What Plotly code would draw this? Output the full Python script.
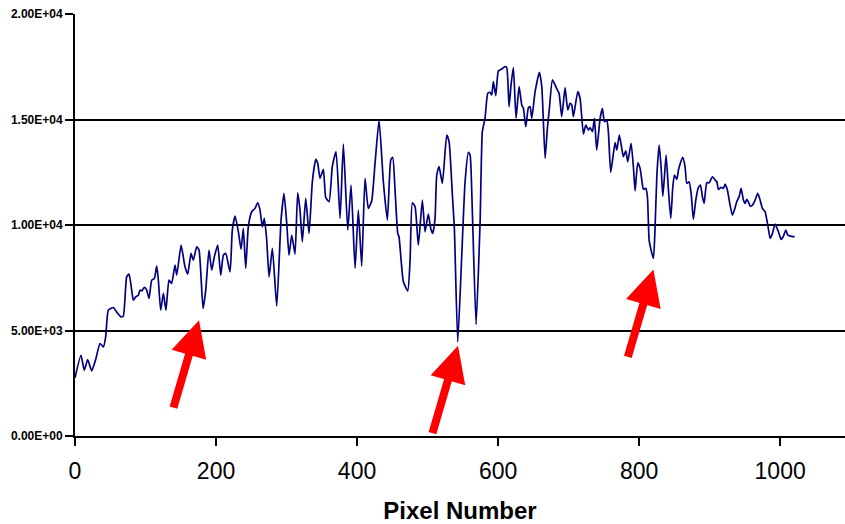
import plotly.graph_objects as go

# Spectrum trace: pixel number vs intensity
pixel = [0, 8.5, 13.2, 18, 23.6, 29.3, 35.5, 40.2, 43.5, 47.3, 54.3, 59, 65.2, 68.5, 73.3, 76.6,
         80.4, 82.7, 86, 89.8, 92.2, 94.6, 98.4, 101.7, 105, 108.8, 112.5, 115.9, 118.2, 121.5,
         125.3, 129, 133.3, 137, 141.8, 144.3, 150.4, 153.6, 156, 159.9, 164.5, 167.8, 172.6,
         175.9, 181.6, 185.4, 190, 193.9, 197.6, 202.4, 206.7, 210.4, 213.7, 219.9, 223.1, 227,
         231.7, 235.5, 238.7, 242.1, 245.8, 250.6, 255.3, 259.1, 262.4, 265.7, 268.5, 271.9,
         275.2, 279.9, 286.1, 292.2, 296.4, 300.3, 303.5, 307.4, 312, 315.8, 319.1, 322.4, 327.2,
         331.9, 336.6, 341.4, 344.2, 347.5, 352.2, 355.6, 360.3, 365, 370.2, 375.9, 380.6, 386.8,
         391.5, 397.2, 401.8, 406.6, 411.3, 416, 420.8, 425.5, 431.2, 437.3, 443, 447.8, 450.6,
         453.9, 457.7, 459.5, 465.7, 471.9, 475.2, 478.4, 482.3, 486.9, 492.6, 496.4, 501.1,
         504.5, 507.4, 510.6, 513, 516.3, 521, 527.2, 530.5, 535.2, 538, 542.8, 548.5, 553.2,
         557.9, 560.3, 563.5, 568.8, 574.5, 577.7, 581.5, 585.4, 588.6, 591, 593.3, 596.7, 600.4,
         605.2, 609.9, 612.3, 615.6, 618.4, 621.7, 625.5, 629.8, 633.6, 635.9, 639.3, 643, 645.4,
         647.8, 652.5, 658.6, 662, 666.7, 669.9, 672.8, 677, 680.8, 683.3, 686.5, 690.3, 695,
         698.8, 702.1, 704.5, 706.8, 713, 716.3, 721, 724.4, 728.1, 730.5, 733.8, 736.6, 739.9,
         744.7, 747.9, 750.8, 754.2, 756.4, 759.8, 765.9, 768.3, 772, 775.4, 777.7, 781.1, 783.9,
         788.6, 791.9, 794.3, 798.1, 801.4, 803.8, 806.1, 809.5, 811.8, 814.2, 817, 820.3, 822.7,
         825.1, 828.4, 831.2, 833.6, 835.9, 838.3, 841.6, 844.9, 847.8, 850.1, 853.5, 855.8,
         858.1, 861.9, 865.2, 867.6, 870.9, 873.8, 877, 880.4, 884.1, 887, 889.8, 892.2, 896,
         899.3, 904, 907.8, 910.2, 912.5, 916.3, 919.6, 922, 925.2, 929, 932.3, 935.1, 938.5,
         941.8, 944.7, 947.9, 950.3, 952.7, 955, 957.4, 960.7, 964.5, 968.3, 971.6, 974.9, 978.7,
         982.5, 985.8, 989.1, 992.9, 997.6, 1001.4, 1004.7, 1008.1, 1010.9, 1014.4, 1020.5]

intensity = [2760, 3828, 3117, 3624, 3084, 3624, 4383, 4222, 4697, 5963, 6091, 5883, 5645, 5679,
             7543, 7671, 6912, 6438, 6594, 6675, 6912, 6879, 7040, 6912, 6518, 7386, 7467, 8050,
             7386, 5963, 6755, 5963, 7386, 7230, 8098, 7624, 9047, 8492, 8017, 7671, 8653, 8335,
             8966, 8810, 6044, 6912, 8810, 7860, 8492, 9047, 7624, 8572, 8653, 7780, 9758, 10423,
             9678, 8843, 9839, 7941, 9915, 10627, 10788, 11054, 10707, 9915, 10313, 9284, 7543,
             8890, 6153, 10233, 11500, 10076, 8572, 9521, 8620, 11528, 10707, 9203, 11262, 9602,
             12050, 13112, 12923, 12211, 12638, 11310, 11101, 12795, 13473, 10313, 13838, 9758,
             11893, 7941, 10707, 8050, 12211, 10788, 11149, 12923, 14977, 12050, 10233, 13079,
             13207, 11656, 9602, 9441, 7306, 6879, 8335, 11054, 10864, 9047, 11182, 9678, 10518,
             9839, 9602, 10300, 12368, 12762, 11974, 14265, 13948, 11419, 9839, 4459, 8572, 12050,
             13444, 13317, 10627, 5285, 10152, 14422, 15057, 16243, 16290, 16163, 16794, 16130,
             17301, 17396, 17505, 17458, 15608, 16637, 17458, 15057, 16556, 15688, 15532, 14659,
             15560, 15608, 15057, 16319, 17240, 16556, 13160, 14583, 15532, 16874, 16637, 16447,
             16243, 15133, 16509, 15451, 15769, 15688, 15133, 16319, 16006, 14313, 14740, 14502,
             14612, 14422, 15057, 13553, 15057, 15532, 14896, 14977, 14422, 12496, 13900, 13553,
             14265, 13634, 13236, 13520, 12998, 13871, 12762, 11623, 12951, 12685, 12131, 11689,
             11737, 11338, 9284, 8810, 8416, 9915, 12287, 13790, 12762, 11371, 12287, 13317, 11656,
             10313, 11813, 12368, 12164, 12605, 12890, 13207, 12762, 11974, 12050, 11500, 10266,
             11182, 11784, 11893, 11338, 11025, 12002, 12002, 12287, 12131, 12050, 11689, 11784,
             11737, 11941, 11656, 10944, 10470, 10707, 11101, 11338, 11737, 11182, 11025, 11215,
             11101, 10897, 10944, 11182, 11500, 11182, 10788, 10627, 9996, 9365, 9602, 10043, 9678,
             9317, 9474, 9758, 9521, 9474, 9441]

x_ticks = [0, 200, 400, 600, 800, 1000]
y_ticks = [0, 5000, 10000, 15000, 20000]
y_tick_labels = ["0.00E+00", "5.00E+03", "1.00E+04", "1.50E+04", "2.00E+04"]

# Arrow tips (pixel number, intensity) pointing at the absorption dips
arrow_x = [175.9, 543.2, 820.3]
arrow_y = [5489, 4279, 7894]

FONT = "Liberation Sans, Arial, sans-serif"

fig = go.Figure()
fig.add_trace(go.Scatter(
    x=pixel, y=intensity, mode="lines",
    line=dict(color="#000080", width=1.7, shape="spline", smoothing=0.5),
    hoverinfo="skip", showlegend=False,
))

for ax_, ay_ in zip(arrow_x, arrow_y):
    fig.add_annotation(
        x=ax_, y=ay_, xref="x", yref="y", text="",
        showarrow=True, arrowhead=2, arrowsize=0.9, arrowwidth=8,
        arrowcolor="#FF0000", ax=-26, ay=89, standoff=0,
    )

fig.update_layout(
    width=845, height=524,
    margin=dict(l=75, r=0, t=14, b=88, pad=0),
    paper_bgcolor="white", plot_bgcolor="white",
    font=dict(family=FONT, color="black"),
    xaxis=dict(
        range=[0, 1092], tickvals=x_ticks, ticks="outside", ticklen=8,
        tickwidth=1.5, tickcolor="black", showline=True, linecolor="black",
        linewidth=2, showgrid=False, zeroline=False, ticklabelstandoff=5,
        tickfont=dict(size=23, family=FONT, color="black"),
        title=dict(text="<b>Pixel Number</b>", font=dict(size=24, family=FONT, color="black"),
                   standoff=21),
    ),
    yaxis=dict(
        range=[0, 20000], tickvals=y_ticks,
        ticktext=["<b>%s</b>" % t for t in y_tick_labels],
        ticks="outside", ticklen=8, tickwidth=1.5, tickcolor="black",
        showline=True, linecolor="black", linewidth=2,
        showgrid=True, gridcolor="black", gridwidth=1.5, zeroline=False,
        tickfont=dict(size=12, family=FONT, color="black"),
    ),
)

fig.write_html("out.html")
